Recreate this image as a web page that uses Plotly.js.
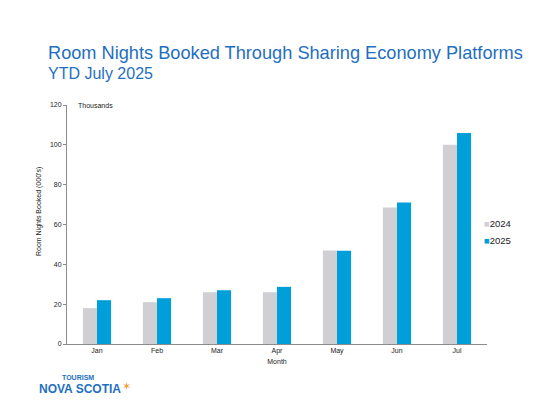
<!DOCTYPE html>
<html>
<head>
<meta charset="utf-8">
<script src="https://cdn.plot.ly/plotly-3.0.1.min.js"></script>
<style>html,body{margin:0;padding:0;background:#fff;}#chart{width:550px;height:413px;}</style>
</head>
<body>
<div id="chart"></div>
<script>
const months = ["Jan", "Feb", "Mar", "Apr", "May", "Jun", "Jul"];
const values2024 = [18, 21, 26, 26, 47, 68.5, 100];
const values2025 = [22, 23, 27, 28.7, 46.8, 71, 106];
const yTicks = [0, 20, 40, 60, 80, 100, 120];
const seriesNames = ["2024", "2025"];
const seriesColors = ["#D0CFD4", "#009FDA"];

const traces = [
  {type: "bar", name: seriesNames[0], x: months, y: values2024, marker: {color: seriesColors[0]}},
  {type: "bar", name: seriesNames[1], x: months, y: values2025, marker: {color: seriesColors[1]}}
];

const legendAnn = seriesNames.map((n, i) => ({
  text: '<span style="color:' + seriesColors[i] + '">■</span>' + n,
  xref: "paper", yref: "paper", x: 0.988, y: 0.5, xanchor: "left", yanchor: "middle",
  yshift: 1.5 - i * 17, showarrow: false, font: {size: 9.5, color: "#222"}
}));

const layout = {
  width: 550, height: 413,
  paper_bgcolor: "#fff", plot_bgcolor: "#fff",
  font: {family: "Liberation Sans, Arial, sans-serif", color: "#222"},
  margin: {l: 67, r: 63, t: 105, b: 69},
  barmode: "group", bargap: 0.53, bargroupgap: 0,
  showlegend: false,
  xaxis: {
    showgrid: false, showline: true, linecolor: "#8c8c8c", linewidth: 1,
    ticks: "", tickfont: {size: 7, color: "#222"},
    title: {text: "Month", font: {size: 7, color: "#222"}, standoff: 4}
  },
  yaxis: {
    range: [0, 120], tickvals: yTicks, showgrid: false, zeroline: false,
    showline: true, linecolor: "#8c8c8c", linewidth: 1,
    ticks: "outside", ticklen: 3, tickcolor: "#8c8c8c",
    tickfont: {size: 7, color: "#222"}
  },
  annotations: [
    {text: "Room Nights Booked Through Sharing Economy Platforms", xref: "paper", yref: "paper",
     x: -0.05, y: 1.0, xanchor: "left", yanchor: "bottom", showarrow: false, yshift: 40,
     font: {size: 18.2, color: "#1F6FBF"}},
    {text: "YTD July 2025", xref: "paper", yref: "paper",
     x: -0.05, y: 1.0, xanchor: "left", yanchor: "bottom", showarrow: false, yshift: 21,
     font: {size: 16, color: "#1F6FBF"}},
    {text: "Room Nights Booked (000's)", xref: "paper", yref: "paper", textangle: -90,
     x: -0.065, y: 0.555, xanchor: "center", yanchor: "middle", showarrow: false,
     font: {size: 7, color: "#222"}},
    {text: "Thousands", xref: "paper", yref: "paper",
     x: 0.022, y: 1.0, xanchor: "left", yanchor: "middle", showarrow: false,
     font: {size: 7, color: "#222"}},
    {text: "<b>TOURISM</b>", xref: "paper", yref: "paper",
     x: -0.017, y: 0, xanchor: "left", yanchor: "middle", showarrow: false, yshift: -33,
     font: {size: 7, color: "#1F6FBF"}},
    {text: "<b>NOVA SCOTIA</b>", xref: "paper", yref: "paper",
     x: -0.072, y: 0, xanchor: "left", yanchor: "middle", showarrow: false, yshift: -45,
     font: {size: 12, color: "#1F6FBF"}},
    {text: "✶", xref: "paper", yref: "paper",
     x: 0.125, y: 0, xanchor: "left", yanchor: "middle", showarrow: false, yshift: -42,
     font: {size: 11, color: "#E8A53A"}}
  ].concat(legendAnn)
};

Plotly.newPlot("chart", traces, layout, {displayModeBar: false, staticPlot: true});
</script>
</body>
</html>
